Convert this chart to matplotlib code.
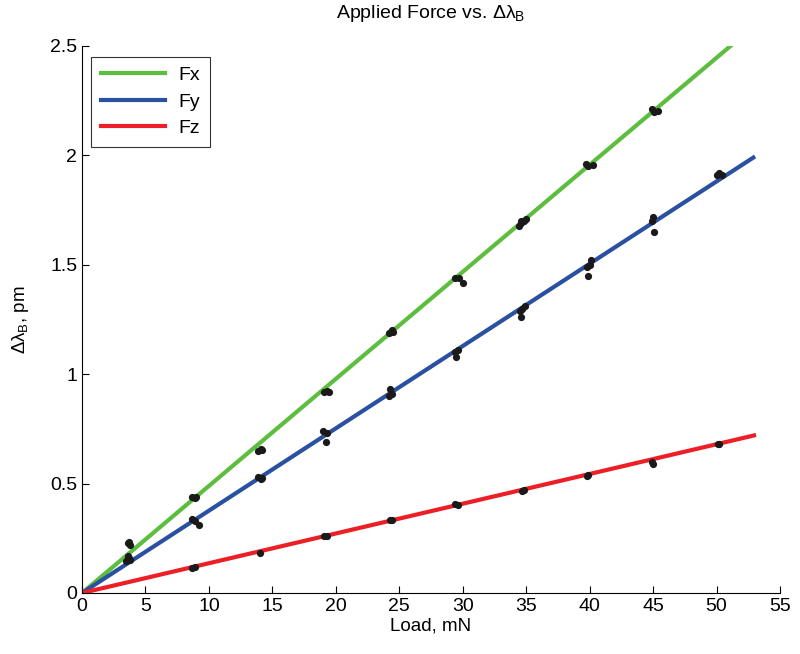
import numpy as np
import matplotlib
matplotlib.use('Agg')
import matplotlib.pyplot as plt

plt.rcParams['font.family'] = ['Liberation Sans', 'DejaVu Sans']
plt.rcParams['mathtext.fontset'] = 'custom'
plt.rcParams['mathtext.rm'] = 'Liberation Sans'
plt.rcParams['mathtext.it'] = 'Liberation Sans'

# fitted lines (end points)
fx_line_x = [0, 51.1]
fx_line_y = [0, 2.5]
fy_line_x = [0, 52.9]
fy_line_y = [0, 1.99]
fz_line_x = [0, 52.95]
fz_line_y = [0, 0.72]

# measured points
fx_load = [3.6, 3.8, 3.7, 8.7, 8.9, 9.0, 13.9, 14.1, 14.2, 19.1, 19.3, 19.5,
           24.2, 24.4, 24.5, 29.4, 29.7, 30.0, 34.6, 34.8, 35.0, 39.7, 39.9, 40.3,
           44.9, 45.1, 45.4]
fx_dl = [0.23, 0.22, 0.235, 0.44, 0.435, 0.44, 0.65, 0.66, 0.655, 0.92, 0.925, 0.92,
         1.19, 1.20, 1.195, 1.44, 1.44, 1.415, 1.69, 1.70, 1.71, 1.96, 1.95, 1.955,
         2.21, 2.20, 2.205]

fy_load = [3.5, 3.7, 3.6, 3.8, 8.7, 8.9, 9.2, 13.9, 14.1, 14.2, 19.0, 19.3, 19.2,
           24.2, 24.3, 24.4, 29.4, 29.5, 29.6, 34.5, 34.7, 34.9, 34.6, 39.8, 40.0, 40.1, 39.9,
           44.9, 45.0, 45.1, 50.0, 50.2, 50.4]
fy_dl = [0.145, 0.16, 0.17, 0.15, 0.34, 0.33, 0.31, 0.53, 0.52, 0.525, 0.74, 0.73, 0.69,
         0.90, 0.93, 0.91, 1.10, 1.08, 1.11, 1.29, 1.30, 1.31, 1.26, 1.49, 1.50, 1.52, 1.45,
         1.70, 1.72, 1.65, 1.91, 1.92, 1.91]

fy_extra_load = [34.4, 34.6]
fy_extra_dl = [1.675, 1.70]

fz_load = [8.7, 8.9, 14.0, 19.1, 19.3, 24.3, 24.4, 29.4, 29.6, 34.7, 34.8, 39.8, 39.9,
           44.9, 45.0, 50.1, 50.2]
fz_dl = [0.115, 0.12, 0.185, 0.26, 0.262, 0.335, 0.333, 0.405, 0.40, 0.465, 0.47, 0.535, 0.538,
         0.60, 0.59, 0.68, 0.682]

green = '#5cbd3e'
blue = '#2a50a1'
red = '#ec1f26'

fig = plt.figure(figsize=(8, 6.54), dpi=100)
ax = fig.add_axes([0.1025, 0.0933, 0.8725, 0.8364])

ax.plot(fx_line_x, fx_line_y, color=green, lw=3, label='Fx', zorder=2)
ax.plot(fy_line_x, fy_line_y, color=blue, lw=3, label='Fy', zorder=2)
ax.plot(fz_line_x, fz_line_y, color=red, lw=3, label='Fz', zorder=2)

for xs, ys in [(fx_load, fx_dl), (fy_load, fy_dl), (fy_extra_load, fy_extra_dl), (fz_load, fz_dl)]:
    ax.plot(xs, ys, 'o', color='#1a1a1a', ms=5.2, mec='none', zorder=3)

ax.set_xlim(0, 55)
ax.set_ylim(0, 2.5)
ax.set_xticks(range(0, 56, 5))
ax.set_yticks([0, 0.5, 1, 1.5, 2, 2.5])
ax.set_yticklabels(['0', '0.5', '1', '1.5', '2', '2.5'])
ax.spines['top'].set_visible(False)
ax.spines['right'].set_visible(False)
ax.tick_params(direction='in', length=5, labelsize=14, width=0.8)

ax.set_xlabel('Load, mN', fontsize=13.5, labelpad=2)
ax.set_ylabel(r'$\Delta\lambda_\mathrm{B}$, pm', fontsize=13.5, labelpad=14)
ax.set_title(r'Applied Force vs. $\Delta\lambda_\mathrm{B}$', fontsize=14, pad=20)

leg = ax.legend(loc='upper left', fontsize=14, frameon=True, fancybox=False,
                edgecolor='black', handlelength=3.3, borderpad=0.5, labelspacing=0.45,
                handletextpad=0.7, borderaxespad=0, bbox_to_anchor=(0.013, 0.98))
leg.get_frame().set_linewidth(0.8)

fig.savefig('out.png', dpi=100)
